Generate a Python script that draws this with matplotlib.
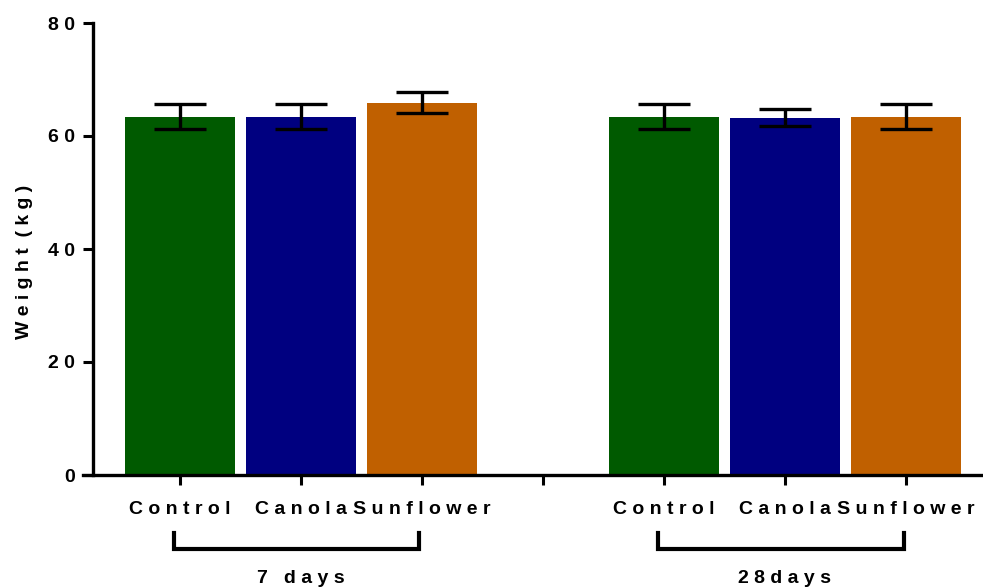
import matplotlib
matplotlib.use("Agg")
import matplotlib.pyplot as plt
import matplotlib.transforms as mtransforms

# ---- data ----
categories = ["Control", "Canola", "Sunflower"]
groups = ["7   d a y s", "2 8 d a y s"]
means_7d = [63.4, 63.4, 65.9]
errs_7d = [2.2, 2.2, 1.8]
means_28d = [63.4, 63.2, 63.4]
errs_28d = [2.2, 1.5, 2.2]
yticks = [0, 20, 40, 60, 80]
colors = ["#005A00", "#000080", "#C06000"]

def spaced(s):
    return " ".join(list(s))

plt.rcParams['font.family'] = ['Liberation Sans', 'DejaVu Sans']
plt.rcParams['font.weight'] = 'bold'

fig = plt.figure(figsize=(9.83, 5.88), dpi=100)
ax = fig.add_axes([83/983, 113/588, 1 - 83/983, 452/588])

for s in ['top', 'right']:
    ax.spines[s].set_visible(False)
ax.spines['left'].set_position(('data', -0.72))
ax.spines['left'].set_linewidth(2.4)
ax.spines['bottom'].set_linewidth(2.4)

pos_7 = [0, 1, 2]
pos_28 = [4, 5, 6]
bw = 0.91
for p, m, e, c in zip(pos_7, means_7d, errs_7d, colors):
    ax.bar(p, m, width=bw, color=c, zorder=2)
    ax.errorbar(p, m, yerr=e, color='black', capsize=19, capthick=2.4, elinewidth=2.4, zorder=3)
for p, m, e, c in zip(pos_28, means_28d, errs_28d, colors):
    ax.bar(p, m, width=bw, color=c, zorder=2)
    ax.errorbar(p, m, yerr=e, color='black', capsize=19, capthick=2.4, elinewidth=2.4, zorder=3)

ax.set_xlim(-0.80, 6.636)
ax.set_ylim(0, 80)
ax.set_yticks(yticks)
ax.set_yticklabels([spaced(str(v)) for v in yticks])
ax.set_xticks(pos_7 + [3] + pos_28)
ax.set_xticklabels([spaced(c) for c in categories] + [""] + [spaced(c) for c in categories])

ax.tick_params(axis='both', length=7.5, width=2.2, direction='out')
ax.tick_params(axis='x', pad=11, labelsize=14)
ax.tick_params(axis='y', pad=5, labelsize=14)
for lab in ax.get_xticklabels() + ax.get_yticklabels():
    lab.set_fontweight('bold')

trans = mtransforms.blended_transform_factory(ax.transData, ax.transAxes)
for grp, pos in zip(groups, [pos_7, pos_28]):
    x0, x1 = pos[0] - 0.05, pos[-1] - 0.02
    ax.plot([x0, x0, x1, x1], [-0.128, -0.164, -0.164, -0.128], color='black',
            lw=3, transform=trans, clip_on=False, solid_joinstyle='miter')
    ax.text((pos[0] + pos[-1]) / 2, -0.23, grp, transform=trans,
            ha='center', va='center', fontsize=14, fontweight='bold')

fig.text(25/983, 1 - 262/588, spaced("Weight (kg)").replace("   ", "  "), rotation=90,
         ha='center', va='center', fontsize=14, fontweight='bold')

fig.savefig("out.png", dpi=100)
